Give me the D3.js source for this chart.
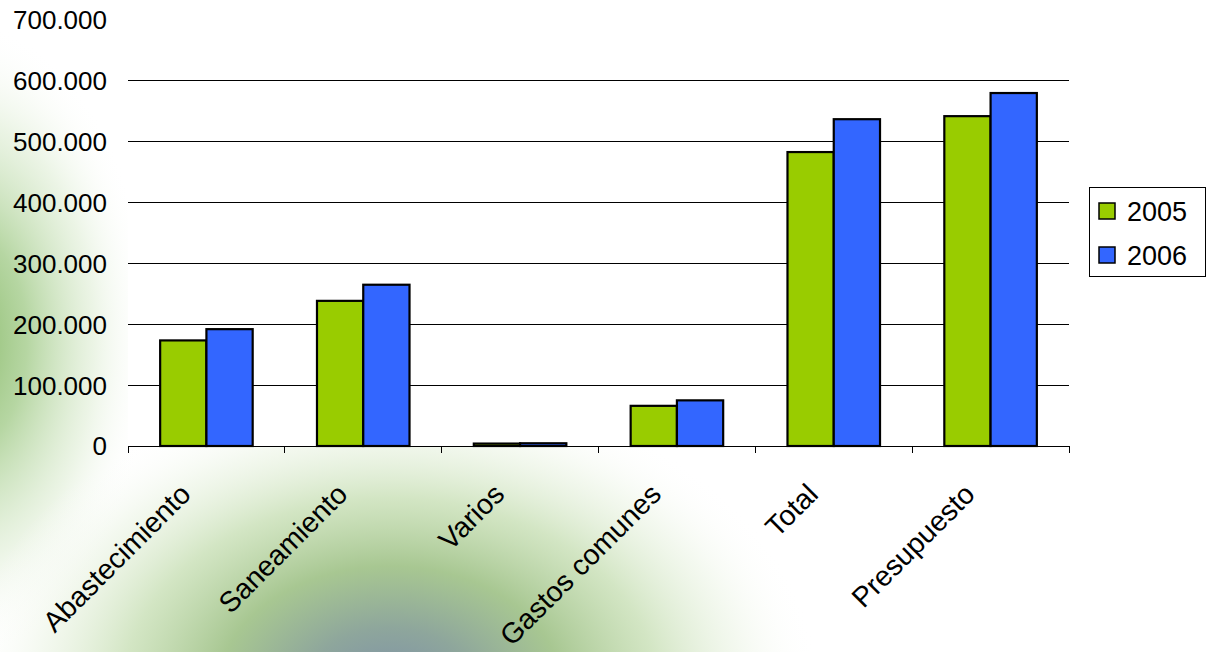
<!DOCTYPE html>
<html>
<head>
<meta charset="utf-8">
<script src="https://cdn.jsdelivr.net/npm/d3@7"></script>
<style>
html,body{margin:0;padding:0;background:#fff;}
svg{display:block;font-family:Arial,"Liberation Sans",sans-serif;}
</style>
</head>
<body>
<svg id="chart" width="1210" height="652"></svg>
<script>
const categories = ["Abastecimiento","Saneamiento","Varios","Gastos comunes","Total","Presupuesto"];
const series = ["2005","2006"];
const values2005 = [173500, 238500, 4000, 66000, 483000, 542000];
const values2006 = [192000, 265000, 4500, 75000, 537000, 580000];
const colors = ["#99cc00","#3366ff"];
const yTicks = [0,100000,200000,300000,400000,500000,600000,700000];

const svg = d3.select("#chart");
const W = 1210, H = 652;
const plot = {left:128, right:1069, top:20, bottom:446};

// decorative background
const defs = svg.append("defs");
const g1 = defs.append("radialGradient").attr("id","bgBottom")
  .attr("gradientUnits","userSpaceOnUse").attr("cx",390).attr("cy",690).attr("r",430)
  .attr("gradientTransform","translate(390,690) scale(1,0.72) translate(-390,-690)");
[[0,"#7c8fa8",1],[0.2,"#8ea69c",1],[0.4,"#a3c48c",0.95],[0.62,"#c4ddb0",0.75],[0.82,"#e6f1dd",0.45],[1,"#ffffff",0]]
  .forEach(s=>g1.append("stop").attr("offset",s[0]).attr("stop-color",s[1]).attr("stop-opacity",s[2]));
const g2 = defs.append("radialGradient").attr("id","bgLeft")
  .attr("gradientUnits","userSpaceOnUse").attr("cx",-40).attr("cy",340).attr("r",320)
  .attr("gradientTransform","translate(-40,340) scale(0.6,1) translate(40,-340)");
[[0,"#86b866",1],[0.35,"#a9cf92",0.85],[0.7,"#dcecd1",0.55],[1,"#ffffff",0]]
  .forEach(s=>g2.append("stop").attr("offset",s[0]).attr("stop-color",s[1]).attr("stop-opacity",s[2]));

svg.append("rect").attr("width",W).attr("height",H).attr("fill","#fff");
svg.append("rect").attr("width",W).attr("height",H).attr("fill","url(#bgLeft)");
svg.append("rect").attr("width",W).attr("height",H).attr("fill","url(#bgBottom)");

// plot area white
svg.append("rect").attr("x",plot.left).attr("y",0)
  .attr("width",plot.right-plot.left).attr("height",plot.bottom).attr("fill","#fff");

const x = d3.scaleBand().domain(categories).range([plot.left, plot.right]).padding(0);
const bw = x.bandwidth();
const xs = d3.scaleBand().domain(series).range([0.205*bw, 0.795*bw]).padding(0);
const y = d3.scaleLinear().domain([0,700000]).range([plot.bottom, plot.top]);

const fmt = v => d3.format(",")(v).replace(/,/g,".");

// gridlines
svg.append("g").selectAll("line").data(yTicks.filter(t=>t>0 && t<700000)).join("line")
  .attr("x1",plot.left).attr("x2",plot.right)
  .attr("y1",d=>y(d)).attr("y2",d=>y(d))
  .attr("stroke","#000").attr("stroke-width",1).attr("shape-rendering","crispEdges");

// y labels
svg.append("g").selectAll("text").data(yTicks).join("text")
  .attr("x",107).attr("y",d=>y(d)).attr("dy","0.36em")
  .attr("text-anchor","end").attr("font-size",26).attr("fill","#000")
  .text(fmt);

// bars
const data = categories.map((c,i)=>({cat:c, vals:[values2005[i], values2006[i]]}));
const groups = svg.append("g").selectAll("g").data(data).join("g")
  .attr("transform",d=>`translate(${x(d.cat)},0)`);
groups.selectAll("rect").data(d=>d.vals.map((v,j)=>({s:series[j], v, j}))).join("rect")
  .attr("x",d=>xs(d.s)).attr("width",xs.bandwidth())
  .attr("y",d=>y(d.v)).attr("height",d=>y(0)-y(d.v))
  .attr("fill",d=>colors[d.j]).attr("stroke","#000").attr("stroke-width",2.2);

// x axis
const xAxisG = svg.append("g");
xAxisG.append("line").attr("x1",plot.left).attr("x2",plot.right)
  .attr("y1",plot.bottom).attr("y2",plot.bottom).attr("stroke","#000").attr("stroke-width",1)
  .attr("shape-rendering","crispEdges");
const bounds = categories.map(c=>x(c)).concat([plot.right]);
xAxisG.selectAll("line.tick").data(bounds).join("line").attr("class","tick")
  .attr("x1",d=>d).attr("x2",d=>d).attr("y1",plot.bottom).attr("y2",plot.bottom+7)
  .attr("stroke","#000").attr("stroke-width",1).attr("shape-rendering","crispEdges");
xAxisG.selectAll("text").data(categories).join("text")
  .attr("transform",d=>`translate(${x(d)+bw/2-14},${plot.bottom+50}) rotate(-45)`)
  .attr("text-anchor","end").attr("font-size",28.5).attr("fill","#000")
  .text(d=>d);

// legend
const lg = svg.append("g");
lg.append("rect").attr("x",1089.5).attr("y",187.5).attr("width",116).attr("height",89)
  .attr("fill","#fff").attr("stroke","#000").attr("stroke-width",1);
const items = lg.selectAll("g").data(series).join("g")
  .attr("transform",(d,i)=>`translate(1099,${203+i*44})`);
items.append("rect").attr("width",16).attr("height",16)
  .attr("fill",(d,i)=>colors[i]).attr("stroke","#000").attr("stroke-width",1.5);
items.append("text").attr("x",28).attr("y",8).attr("dy","0.36em")
  .attr("font-size",27).attr("fill","#000").text(d=>d);
</script>
</body>
</html>
